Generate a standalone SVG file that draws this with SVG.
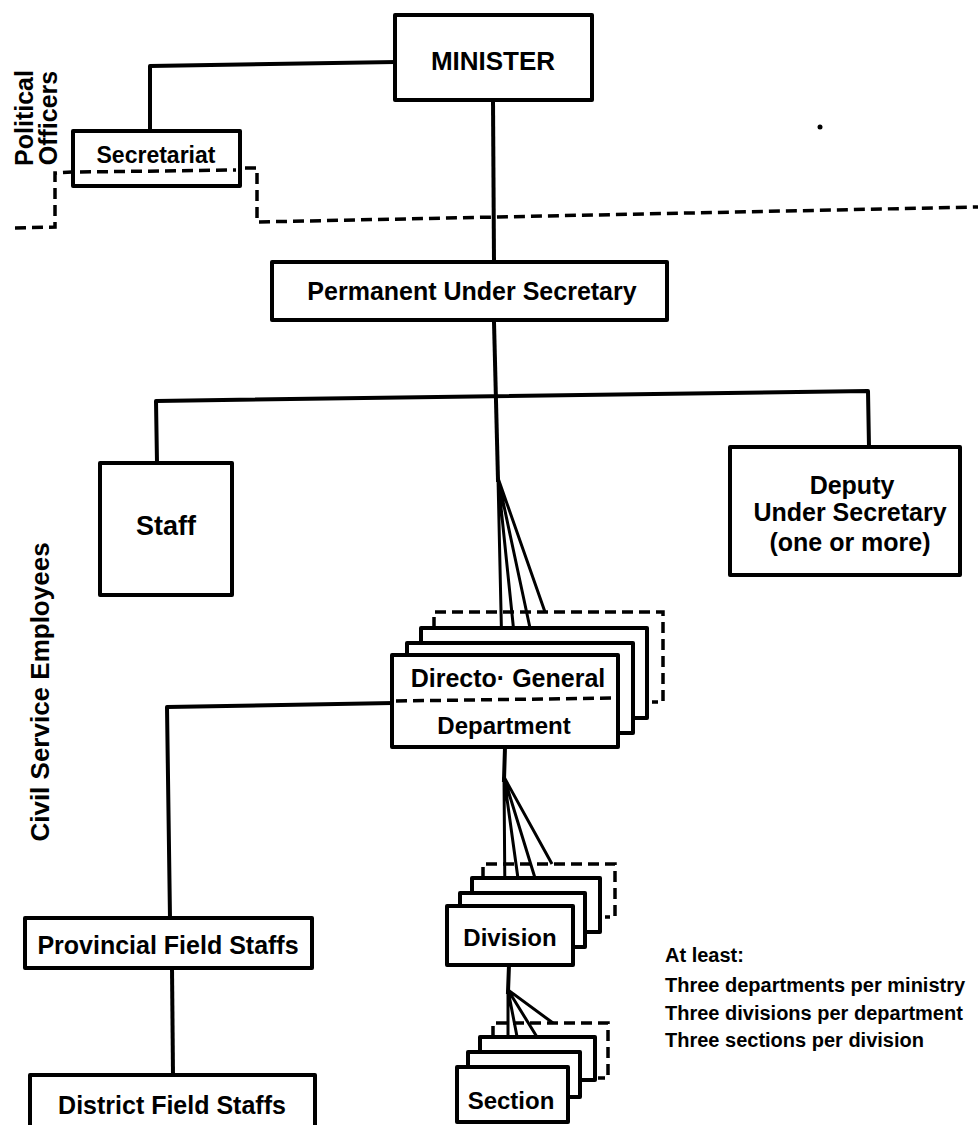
<svg xmlns="http://www.w3.org/2000/svg" width="978" height="1125" viewBox="0 0 978 1125">
<style>
.box{fill:#fff;stroke:#000;stroke-width:4;stroke-linejoin:round}
.ln{fill:none;stroke:#000;stroke-width:4;stroke-linecap:square;stroke-linejoin:round}
.fan{fill:none;stroke:#000;stroke-width:3}
.dash{fill:none;stroke:#000;stroke-width:3.5;stroke-dasharray:11,6}
.t{font-family:"Liberation Sans",Arial,sans-serif;font-weight:bold;fill:#000;text-anchor:middle}
.n{font-family:"Liberation Sans",Arial,sans-serif;font-weight:bold;fill:#000;font-size:20px}
</style>
<rect width="978" height="1125" fill="#fff"/>
<g id="connectors">
<path class="ln" d="M395,62 L150,66 L150,132"/>
<path class="ln" d="M493,100 L494,262"/>
<path class="ln" d="M494,322 L498,480"/>
<path class="ln" d="M157,463 L156,401 L868,391 L869,447"/>
<path class="fan" d="M498,478 L502,655 M498,478 L515,643 M498,478 L530,628 M498,478 L545,612"/>
<path class="ln" d="M392,703 L167,707 L170,918"/>
<path class="ln" d="M172,968 L173,1075"/>
<path class="ln" d="M505,747 L504,780"/>
<path class="fan" d="M504,777 L505,906 M504,777 L520,893 M504,777 L535,878 M504,777 L552,864"/>
<path class="ln" d="M509,965 L508,992"/>
<path class="fan" d="M508,990 L508,1067 M508,990 L520,1052 M508,990 L537,1037 M508,990 L553,1023"/>
<path class="dash" d="M15,228 L55,227 L55,173 L72,172"/>
<path class="dash" d="M245,168 L257,168 L257,222 L978,207"/>
</g>
<g id="minister"><rect class="box" x="395" y="15" width="197" height="85"/><text class="t" x="493" y="70" font-size="26">MINISTER</text></g>
<g id="secretariat"><rect class="box" x="73" y="131" width="167" height="55"/><text class="t" x="156" y="163" font-size="23">Secretariat</text><line class="dash" x1="80" y1="172" x2="236" y2="170"/></g>
<g id="pus"><rect class="box" x="272" y="262" width="395" height="58"/><text class="t" x="472" y="300" font-size="25">Permanent Under Secretary</text></g>
<g id="staff"><rect class="box" x="100" y="463" width="132" height="132"/><text class="t" x="166" y="535" font-size="27">Staff</text></g>
<g id="deputy"><rect class="box" x="730" y="447" width="230" height="128"/><text class="t" x="852" y="494" font-size="25">Deputy</text><text class="t" x="850" y="521" font-size="25">Under Secretary</text><text class="t" x="850" y="551" font-size="25">(one or more)</text></g>
<g id="dg">
<path class="dash" d="M434,628 L434,612 L663,612 L663,702 L652,702"/>
<rect class="box" x="421" y="628" width="226" height="90"/>
<rect class="box" x="407" y="643" width="226" height="90"/>
<rect class="box" x="392" y="655" width="226" height="92"/>
<text class="t" x="508" y="687" font-size="25">Directo·  General</text>
<line class="dash" x1="396" y1="701" x2="615" y2="698"/>
<text class="t" x="504" y="734" font-size="24">Department</text>
</g>
<g id="division">
<path class="dash" d="M483,878 L483,864 L615,864 L615,917 L605,917"/>
<rect class="box" x="472" y="878" width="128" height="54"/>
<rect class="box" x="460" y="893" width="125" height="54"/>
<rect class="box" x="447" y="906" width="126" height="59"/>
<text class="t" x="510" y="946" font-size="24">Division</text>
</g>
<g id="section">
<path class="dash" d="M493,1037 L493,1023 L608,1023 L608,1078 L598,1078"/>
<rect class="box" x="480" y="1037" width="115" height="43"/>
<rect class="box" x="468" y="1052" width="112" height="45"/>
<rect class="box" x="457" y="1067" width="111" height="55"/>
<text class="t" x="511" y="1109" font-size="24">Section</text>
</g>
<g id="provincial"><rect class="box" x="25" y="918" width="287" height="50"/><text class="t" x="168" y="954" font-size="25">Provincial Field Staffs</text></g>
<g id="district"><rect class="box" x="30" y="1075" width="285" height="60"/><text class="t" x="172" y="1114" font-size="25">District Field Staffs</text></g>
<g id="labels">
<text class="t" transform="translate(33,118) rotate(-90)" font-size="25">Political</text>
<text class="t" transform="translate(57,118) rotate(-90)" font-size="25">Officers</text>
<text class="t" transform="translate(49,692) rotate(-90)" font-size="26">Civil Service Employees</text>
<circle cx="820" cy="127" r="2.5" fill="#000"/>
<text class="n" x="665" y="962">At least:</text>
<text class="n" x="665" y="992">Three departments per ministry</text>
<text class="n" x="665" y="1020">Three divisions per department</text>
<text class="n" x="665" y="1047">Three sections per division</text>
</g>
</svg>
